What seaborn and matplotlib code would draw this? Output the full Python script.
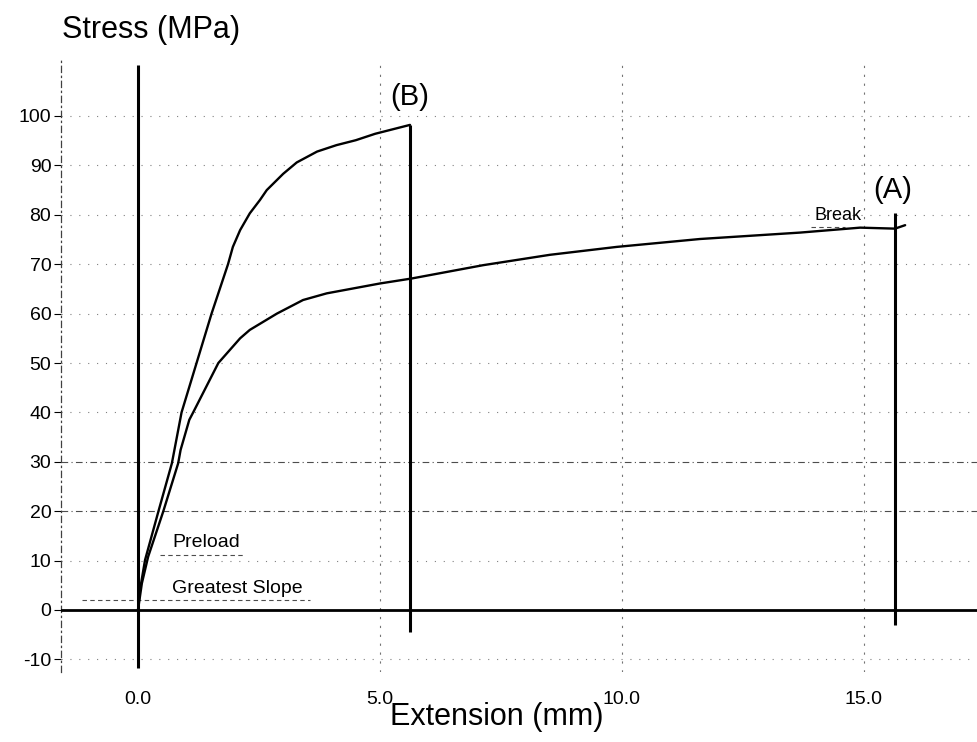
import numpy as np
import pandas as pd
import seaborn as sns
import matplotlib

matplotlib.use("Agg")
import matplotlib.pyplot as plt

# curve (B): stiffer specimen, breaks at ~5.6 mm
ext_b = [0, 0.04, 0.145, 0.42, 0.70, 0.90, 1.21, 1.52, 1.86, 1.96, 2.11, 2.31,
         2.52, 2.66, 3.0, 3.28, 3.7, 4.1, 4.5, 4.9, 5.3, 5.62]
stress_b = [0, 4.0, 10.1, 19.9, 29.7, 40, 50, 60, 70, 73.5, 76.9, 80.3,
            83.0, 85.0, 88.3, 90.6, 92.8, 94.1, 95.1, 96.4, 97.4, 98.2]

# curve (A): ductile specimen, breaks at ~15.6 mm
ext_a = [0, 0.08, 0.21, 0.52, 0.83, 0.88, 1.06, 1.14, 1.66, 2.11, 2.31, 2.87,
         3.41, 3.90, 5.0, 5.65, 7.13, 8.51, 9.89, 11.61, 13.68, 14.92, 15.64, 15.85]
stress_a = [0, 5.4, 10.8, 19.9, 29.7, 32.4, 38.5, 40, 50, 55, 56.7, 60,
            62.75, 64.1, 66.1, 67.1, 69.8, 71.9, 73.5, 75.1, 76.4, 77.4, 77.2, 77.9]

# break markers (x, top, bottom)
break_x = [5.62, 15.64]
break_top = [98.2, 80.3]
break_bottom = [-4.4, -3.0]

x_ticks = [0.0, 5.0, 10.0, 15.0]
x_tick_labels = ["0.0", "5.0", "10.0", "15.0"]
y_ticks = [-10, 0, 10, 20, 30, 40, 50, 60, 70, 80, 90, 100]

sns.set_style("white")
plt.rcParams["font.family"] = ["Liberation Sans", "DejaVu Sans"]
plt.rcParams["axes.unicode_minus"] = False
plt.rcParams["text.color"] = "black"
plt.rcParams["xtick.color"] = "black"
plt.rcParams["ytick.color"] = "black"

fig = plt.figure(figsize=(9.78, 7.42), dpi=100)
W, H = 978, 742
ax = fig.add_axes([61 / W, 1 - 672 / H, (978 - 61) / W, (672 - 60) / H])

x0, x1 = (61 - 138) / 48.4, (978 - 138) / 48.4
y0, y1 = (610 - 672) / 4.94, (610 - 60) / 4.94
ax.set_xlim(x0, x1)
ax.set_ylim(y0, y1)

# grid
for yv in y_ticks:
    if yv == 0:
        continue
    if yv in (20, 30):
        ax.axhline(yv, color="0.3", lw=0.8, ls=(0, (6, 3, 1, 3)), zorder=1)
    else:
        ax.axhline(yv, color="0.5", lw=0.8, ls=(0, (1, 7)), zorder=1)
for xv in x_ticks[1:]:
    ax.axvline(xv, color="0.45", lw=0.8, ls=(0, (2, 6)), zorder=1)

# axes through origin
ax.axhline(0, color="black", lw=2.0, zorder=3)
ax.vlines(0, (610 - 668) / 4.94, (610 - 65) / 4.94, color="black", lw=2.2, zorder=3)

sns.lineplot(x=ext_b, y=stress_b, sort=False, estimator=None, color="black",
             lw=1.7, ax=ax, zorder=4)
sns.lineplot(x=ext_a, y=stress_a, sort=False, estimator=None, color="black",
             lw=1.7, ax=ax, zorder=4)
ax.vlines(break_x, break_bottom, break_top, color="black", lw=2.2, zorder=4)

# annotations
ax.text(5.62, 103.8, "(B)", fontsize=21, ha="center", va="center")
ax.text(15.6, 85.0, "(A)", fontsize=21, ha="center", va="center")
ax.text(14.46, 79.8, "Break", fontsize=13, ha="center", va="center")
ax.text(0.70, 13.6, "Preload", fontsize=14, ha="left", va="center")
ax.text(0.70, 4.45, "Greatest Slope", fontsize=14, ha="left", va="center")
ax.hlines(11.1, 0.45, 2.21, color="0.3", lw=0.8, ls=(0, (4, 3)))
ax.hlines(2.0, -1.16, 3.55, color="0.3", lw=0.8, ls=(0, (4, 3)))
ax.hlines(77.6, 13.9, 14.6, color="0.3", lw=0.8, ls=(0, (4, 3)))

# ticks
ax.set_xticks(x_ticks)
ax.set_xticklabels(x_tick_labels)
ax.set_yticks(y_ticks)
ax.tick_params(axis="x", length=0, pad=14, labelsize=14)
ax.tick_params(axis="y", length=5, width=0.8, pad=2, labelsize=14, left=True)

for side in ("top", "right", "bottom"):
    ax.spines[side].set_visible(False)
ax.spines["left"].set_linestyle((0, (5, 3, 1, 3)))
ax.spines["left"].set_linewidth(0.9)
ax.spines["left"].set_color("0.25")

fig.text(62 / W, 1 - 30 / H, "Stress (MPa)", fontsize=22, ha="left", va="center")
fig.text(497 / W, 1 - 717 / H, "Extension (mm)", fontsize=22, ha="center", va="center")

fig.savefig("out.png", dpi=100)
